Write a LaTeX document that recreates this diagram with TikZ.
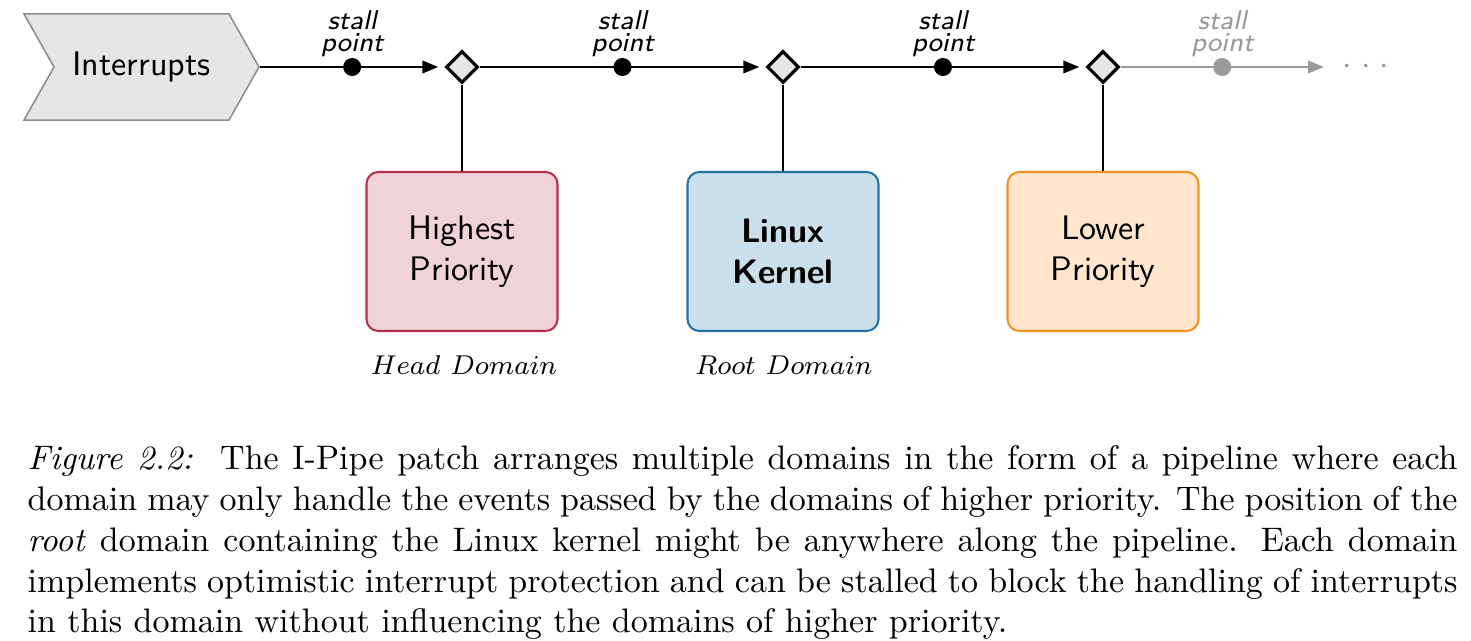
\documentclass[tikz,border=0pt]{standalone}
\usetikzlibrary{shapes.geometric,shapes.symbols,arrows.meta,positioning}
\definecolor{chevfill}{HTML}{E6E6E6}
\definecolor{chevdraw}{HTML}{8C8C8C}
\definecolor{headfill}{HTML}{F0D3D8}
\definecolor{headdraw}{HTML}{B52E4C}
\definecolor{rootfill}{HTML}{CCE0EB}
\definecolor{rootdraw}{HTML}{2370A6}
\definecolor{lowfill}{HTML}{FFE6CC}
\definecolor{lowdraw}{HTML}{F5921E}
\definecolor{greyline}{HTML}{9A9A9A}
\tikzset{
  chev/.style={signal, signal to=east, signal from=west, signal pointer angle=121,
    minimum width=69.1pt, minimum height=31.2pt, inner sep=0pt,
    fill=chevfill, draw=chevdraw, line width=0.45pt, font=\sffamily},
  dia/.style={diamond, aspect=1, minimum width=9.4pt, minimum height=9.4pt, inner sep=0pt,
    fill=chevfill, draw=black, line width=0.9pt},
  sdot/.style={circle, fill=black, minimum size=5.3pt, inner sep=0pt},
  gdot/.style={circle, fill=greyline, minimum size=5.3pt, inner sep=0pt},
  pipe/.style={line width=0.85pt, -{Triangle[length=4.7pt,width=3.6pt]}, shorten >=1.8pt},
  gpipe/.style={line width=0.85pt, draw=greyline, -{Triangle[length=4.7pt,width=3.6pt]}},
  link/.style={line width=0.85pt},
  stall/.style={font=\fontsize{8}{6.5}\selectfont\sffamily\itshape, align=center, inner sep=0pt},
  dombox/.style={rectangle, rounded corners=3.5pt, minimum width=56.15pt, minimum height=46.75pt,
    line width=0.6pt, align=center, font=\sffamily},
  dom/.style={font=\fontsize{8.4}{10}\selectfont, inner sep=0pt},
  captext/.style={font=\fontsize{10}{12}\selectfont, inner sep=0pt, text width=420.4pt, align=justify}
}
\begin{document}
\begin{tikzpicture}[x=0.294pt,y=-0.294pt]
\useasboundingbox (0,0) rectangle (1471,641);

\node[chev] (intr) at (141.5,67) {Interrupts};
\node[dia] (d1) at (462,67) {};
\node[dia] (d2) at (783,67) {};
\node[dia] (d3) at (1103,67) {};
\coordinate (e) at (1324,67);

\draw[pipe] (intr.east) -- node[sdot, pos=0.5] (s1) {} (d1.west);
\draw[pipe] (d1.east) -- node[sdot, pos=0.5] (s2) {} (d2.west);
\draw[pipe] (d2.east) -- node[sdot, pos=0.5] (s3) {} (d3.west);
\draw[gpipe] (d3.east) -- node[gdot, pos=0.5] (s4) {} (e);

\node[stall, above=-0.2pt of s1] (l1) {stall\\point};
\node[stall, above=-0.2pt of s2] (l2) {stall\\point};
\node[stall, above=-0.2pt of s3] (l3) {stall\\point};
\node[stall, above=-0.2pt of s4, text=greyline] (l4) {stall\\point};

\node[text=greyline, inner sep=0pt] (more) at (1366,67) {${\cdot}\mkern4.8mu{\cdot}\mkern4.8mu{\cdot}$};

\node[dombox, fill=headfill, draw=headdraw] (h) at (462,251.5) {Highest\\Priority};
\node[dombox, fill=rootfill, draw=rootdraw, font=\sffamily\bfseries] (r) at (783,251.5) {Linux\\Kernel};
\node[dombox, fill=lowfill, draw=lowdraw] (lo) at (1103,251.5) {Lower\\Priority};

\draw[link] (d1.south) -- (h.north);
\draw[link] (d2.south) -- (r.north);
\draw[link] (d3.south) -- (lo.north);

\node[dom, anchor=base] (hl) at (464,375) {$Head\ Domain$};
\node[dom, anchor=base] (rl) at (784,375) {$Root\ Domain$};

\node[captext, anchor=north west] (caption) at (27,445) {\textit{Figure 2.2:}\ \ The I-Pipe patch arranges multiple domains in the form of a pipeline where each\linebreak
domain may only handle the events passed by the domains of higher priority. The position of the\linebreak
\textit{root} domain containing the Linux kernel might be anywhere along the pipeline. Each domain\linebreak
implements optimistic interrupt protection and can be stalled to block the handling of interrupts\linebreak
in this domain without influencing the domains of higher priority.};
\end{tikzpicture}
\end{document}
